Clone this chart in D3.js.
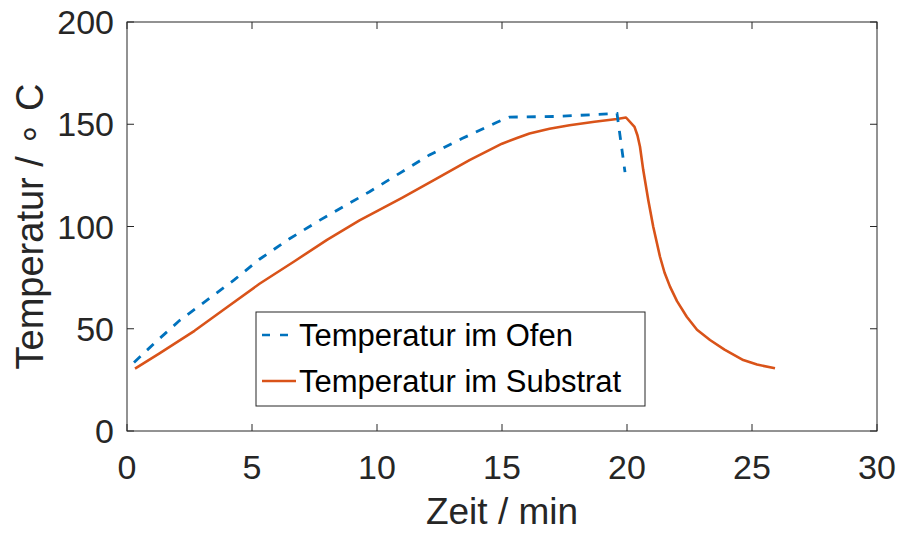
<!DOCTYPE html>
<html>
<head>
<meta charset="utf-8">
<script src="https://cdn.jsdelivr.net/npm/d3@7"></script>
<style>
  body { margin: 0; background: #fff; }
  text { font-family: 'Liberation Sans', Arial, sans-serif; fill: #262626; }
</style>
</head>
<body>
<svg id="chart"></svg>
<script>
'use strict';

// Temperatur im Ofen (min, °C)
const ofenZeit = [0.28, 1.1, 2.1, 3.2, 4.3, 5.3, 6.5, 7.7, 8.7, 9.7, 10.9, 12.1, 13.4, 14.8, 15.3, 17.2, 19.6, 19.92];
const ofenTemp = [33.5, 43, 54, 64, 74, 84, 94, 103, 110, 117, 126, 135, 143, 151, 153.5, 153.8, 155.3, 126.6];

// Temperatur im Substrat (min, °C)
const substratZeit = [0.32, 1.3, 2.7, 4.0, 5.3, 6.7, 8.0, 9.3, 10.0, 11.0, 12.4, 13.7, 15.0, 15.6, 16.1, 16.9, 17.7, 18.7, 19.6, 19.96, 20.3,
  20.42, 20.52, 20.65, 20.85, 21.05, 21.32, 21.5, 21.72, 22.0, 22.39, 22.8, 23.32, 23.9, 24.65, 25.2, 25.92];
const substratTemp = [30.5, 38, 49, 60.5, 72, 83, 93.5, 103, 107.5, 114, 123.5, 132.5, 140.5, 143.3, 145.5, 147.8, 149.5, 151.2, 152.6, 153.3, 148.7,
  144.5, 139, 127.6, 113, 99.9, 85.2, 77.5, 70.6, 63.5, 55.9, 49.5, 44.5, 39.8, 34.7, 32.5, 30.7];

const xTicks = [0, 5, 10, 15, 20, 25, 30];
const yTicks = [0, 50, 100, 150, 200];
const seriesNames = ['Temperatur im Ofen', 'Temperatur im Substrat'];

const width = 899, height = 533;
const margin = { top: 22, right: 22, bottom: 102, left: 127 };
const w = width - margin.left - margin.right;
const h = height - margin.top - margin.bottom;

const svg = d3.select('#chart')
    .attr('width', width)
    .attr('height', height);

const graph = svg.append('g')
    .attr('transform', `translate(${margin.left}, ${margin.top})`);

const x = d3.scaleLinear().domain([0, 30]).range([0, w]);
const y = d3.scaleLinear().domain([0, 200]).range([h, 0]);

const axisColor = '#262626';
const tickLen = 7;

// axis box
graph.append('rect')
    .attr('width', w)
    .attr('height', h)
    .attr('fill', 'none')
    .attr('stroke', axisColor)
    .attr('stroke-width', 1);

// bottom / top ticks
const xt = graph.append('g').attr('class', 'x-ticks');
xt.selectAll('line.b').data(xTicks).enter().append('line')
    .attr('x1', d => x(d)).attr('x2', d => x(d))
    .attr('y1', h).attr('y2', h - tickLen)
    .attr('stroke', axisColor);
xt.selectAll('line.t').data(xTicks).enter().append('line')
    .attr('x1', d => x(d)).attr('x2', d => x(d))
    .attr('y1', 0).attr('y2', tickLen)
    .attr('stroke', axisColor);
xt.selectAll('text').data(xTicks).enter().append('text')
    .attr('x', d => x(d))
    .attr('y', h + 48)
    .attr('text-anchor', 'middle')
    .style('font-size', '34px')
    .text(d => d);

// left / right ticks
const yt = graph.append('g').attr('class', 'y-ticks');
yt.selectAll('line.l').data(yTicks).enter().append('line')
    .attr('x1', 0).attr('x2', tickLen)
    .attr('y1', d => y(d)).attr('y2', d => y(d))
    .attr('stroke', axisColor);
yt.selectAll('line.r').data(yTicks).enter().append('line')
    .attr('x1', w).attr('x2', w - tickLen)
    .attr('y1', d => y(d)).attr('y2', d => y(d))
    .attr('stroke', axisColor);
yt.selectAll('text').data(yTicks).enter().append('text')
    .attr('x', -13)
    .attr('y', d => y(d) + 12)
    .attr('text-anchor', 'end')
    .style('font-size', '34px')
    .text(d => d);

// axis titles
svg.append('text')
    .attr('x', margin.left + w / 2)
    .attr('y', 524)
    .attr('text-anchor', 'middle')
    .style('font-size', '37px')
    .text('Zeit / min');

svg.append('text')
    .attr('transform', `translate(43, ${margin.top + h / 2}) rotate(-90)`)
    .attr('text-anchor', 'middle')
    .style('font-size', '38px')
    .text('Temperatur / \u2218 C');

// lines
const line = d3.line()
    .x(d => x(d[0]))
    .y(d => y(d[1]));

const ofen = ofenZeit.map((t, i) => [t, ofenTemp[i]]);
const substrat = substratZeit.map((t, i) => [t, substratTemp[i]]);

const blue = '#0072BD', red = '#D95319';

graph.append('path')
    .datum(substrat)
    .attr('d', line)
    .attr('fill', 'none')
    .attr('stroke', red)
    .attr('stroke-width', 2.6)
    .attr('stroke-linejoin', 'round');

graph.append('path')
    .datum(ofen)
    .attr('d', line)
    .attr('fill', 'none')
    .attr('stroke', blue)
    .attr('stroke-width', 2.8)
    .attr('stroke-dasharray', '9,9');

// legend
const legend = svg.append('g')
    .attr('transform', 'translate(256, 312)');

legend.append('rect')
    .attr('width', 389)
    .attr('height', 94)
    .attr('fill', '#fff')
    .attr('stroke', '#262626')
    .attr('stroke-width', 1);

const rows = [
  { name: seriesNames[0], color: blue, dash: '8,10', y: 23 },
  { name: seriesNames[1], color: red, dash: null, y: 69 }
];

rows.forEach(r => {
  legend.append('line')
      .attr('x1', 6).attr('x2', 40)
      .attr('y1', r.y).attr('y2', r.y)
      .attr('stroke', r.color)
      .attr('stroke-width', 2.6)
      .attr('stroke-dasharray', r.dash);
  legend.append('text')
      .attr('x', 43)
      .attr('y', r.y + 11)
      .style('font-size', '31px')
      .style('fill', '#000')
      .text(r.name);
});
</script>
</body>
</html>
